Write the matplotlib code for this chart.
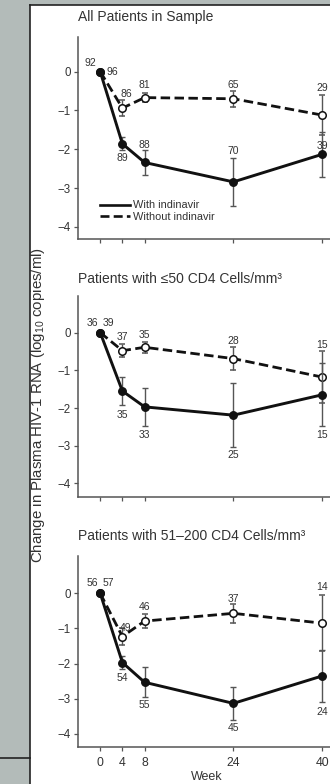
import matplotlib
matplotlib.use("Agg")
import matplotlib.pyplot as plt
from matplotlib.lines import Line2D

plt.rcParams['font.family'] = ['Liberation Sans', 'DejaVu Sans']
plt.rcParams['mathtext.default'] = 'regular'

W, H = 330, 784
DPI = 100

weeks = [0, 4, 8, 24, 40]

titles = ["All Patients in Sample",
          "Patients with \u226450 CD4 Cells/mm\u00b3",
          "Patients with 51\u2013200 CD4 Cells/mm\u00b3"]

# mean change (log10 copies/ml), error half-width, number of patients
with_mean = [[0, -1.86, -2.34, -2.84, -2.13],
             [0, -1.55, -1.97, -2.19, -1.65],
             [0, -1.97, -2.53, -3.13, -2.35]]
with_err = [[0, 0.17, 0.33, 0.62, 0.58],
            [0, 0.36, 0.50, 0.84, 0.84],
            [0, 0.19, 0.43, 0.47, 0.73]]
with_n = [[92, 89, 88, 70, 39],
          [36, 35, 33, 25, 15],
          [56, 54, 55, 45, 24]]

without_mean = [[0, -0.94, -0.67, -0.70, -1.12],
                [0, -0.48, -0.39, -0.69, -1.18],
                [0, -1.23, -0.79, -0.57, -0.85]]
without_err = [[0, 0.20, 0.11, 0.20, 0.52],
               [0, 0.18, 0.14, 0.31, 0.68],
               [0, 0.24, 0.21, 0.27, 0.80]]
without_n = [[96, 86, 81, 65, 29],
             [39, 37, 35, 28, 15],
             [57, 49, 46, 37, 14]]

# label offsets in pixels (dx, dy) for each point
with_off = [[(-10, 9), (0, -14), (0, 17), (0, 31), (0, 8)],
            [(-8, 10), (0, -24), (0, -28), (0, -40), (0, -40)],
            [(-8, 10), (0, -15), (0, -23), (0, -25), (0, -36)]]
without_off = [[(12, 0), (4, 14), (0, 13), (0, 14), (0, 27)],
               [(8, 10), (0, 14), (0, 12), (0, 18), (0, 32)],
               [(8, 10), (3, 9), (0, 14), (0, 14), (0, 36)]]

# panel geometry in pixels: spine top, spine bottom, ylim
panels = [(37, 239, (-4.31, 0.89)),
          (296, 497, (-4.36, 0.97)),
          (556, 747, (-4.37, 1.06))]
title_y = [17, 279, 536]

AX_LEFT = 78
PX_PER_WEEK = 5.55
XLIM = (-4, 52)
ax_right = AX_LEFT + (XLIM[1] - XLIM[0]) * PX_PER_WEEK

bg_gray = "#b3bbb9"
txt = "#333333"
DASH = (0, (3.4, 1.6))

fig = plt.figure(figsize=(W / DPI, H / DPI), dpi=DPI)
fig.patch.set_facecolor("white")

# gray panel on the left and top, with black frame lines
fig.add_artist(plt.Rectangle((0, 0), 29.5 / W, 1, transform=fig.transFigure,
                             facecolor=bg_gray, edgecolor="none", zorder=0))
fig.add_artist(plt.Rectangle((0, 1 - 5 / H), 1, 5 / H, transform=fig.transFigure,
                             facecolor=bg_gray, edgecolor="none", zorder=0))
fig.add_artist(Line2D([29.5 / W, 29.5 / W], [0, 1 - 5 / H], transform=fig.transFigure,
                      color="#222222", lw=1.2))
fig.add_artist(Line2D([29.5 / W, 1], [1 - 5 / H, 1 - 5 / H], transform=fig.transFigure,
                      color="#222222", lw=1.2))
fig.add_artist(Line2D([0, 29.5 / W], [1 - 758 / H, 1 - 758 / H], transform=fig.transFigure,
                      color="#222222", lw=1.2))

for i, (top, bottom, ylim) in enumerate(panels):
    ax = fig.add_axes([AX_LEFT / W, 1 - bottom / H, (ax_right - AX_LEFT) / W, (bottom - top) / H])
    ax.set_facecolor("none")
    ax.set_xlim(*XLIM)
    ax.set_ylim(*ylim)

    ax.errorbar(weeks, without_mean[i], yerr=without_err[i], color="#111111", lw=2.0,
                linestyle=DASH, marker="o", ms=5.4, mfc="white", mec="#111111",
                mew=1.1, ecolor="#555555", elinewidth=1.0, capsize=2.2, capthick=1.0, zorder=3)
    ax.errorbar(weeks, with_mean[i], yerr=with_err[i], color="#111111", lw=2.1,
                marker="o", ms=5.4, mfc="#111111", mec="#111111",
                ecolor="#555555", elinewidth=1.0, capsize=2.2, capthick=1.0, zorder=4)

    for w, m, n, (dx, dy) in zip(weeks, with_mean[i], with_n[i], with_off[i]):
        ax.annotate(str(n), (w, m), xytext=(dx, dy), textcoords="offset pixels",
                    ha="center", va="center", fontsize=7.5, color=txt, zorder=5)
    for w, m, n, (dx, dy) in zip(weeks, without_mean[i], without_n[i], without_off[i]):
        ax.annotate(str(n), (w, m), xytext=(dx, dy), textcoords="offset pixels",
                    ha="center", va="center", fontsize=7.5, color=txt, zorder=5)

    for s in ["top", "right"]:
        ax.spines[s].set_visible(False)
    for s in ["left", "bottom"]:
        ax.spines[s].set_color("#555555")
        ax.spines[s].set_linewidth(1.1)
    ax.set_yticks([-4, -3, -2, -1, 0])
    ax.set_yticklabels(["\u22124", "\u22123", "\u22122", "\u22121", "0"])
    ax.set_xticks(weeks)
    ax.tick_params(axis="both", direction="out", length=3, width=0.9, color="#555555",
                   labelsize=8.3, labelcolor=txt, pad=2)
    if i < 2:
        ax.set_xticklabels([])
    else:
        ax.tick_params(axis="x", labelsize=8.8, pad=4.5)

    fig.text(AX_LEFT / W, 1 - title_y[i] / H, titles[i], ha="left", va="center",
             fontsize=10, color=txt)

    if i == 0:
        handles = [Line2D([], [], color="#111111", lw=1.9),
                   Line2D([], [], color="#111111", lw=1.9, linestyle=DASH)]
        ax.legend(handles, ["With indinavir", "Without indinavir"], loc="center left",
                  bbox_to_anchor=(100 / W, 1 - 211 / H), bbox_transform=fig.transFigure,
                  frameon=False, fontsize=7.9, handlelength=2.7, handletextpad=0.3,
                  labelspacing=0.12, borderpad=0, borderaxespad=0, labelcolor=txt)

fig.text(38 / W, 1 - 405 / H, "Change in Plasma HIV-1 RNA (log$_{10}$ copies/ml)",
         rotation=90, ha="center", va="center", fontsize=10.8, color=txt)
fig.text(207 / W, 1 - 783 / H, "Week", ha="center", va="bottom", fontsize=9, color=txt)

fig.savefig("out.png", dpi=DPI)
